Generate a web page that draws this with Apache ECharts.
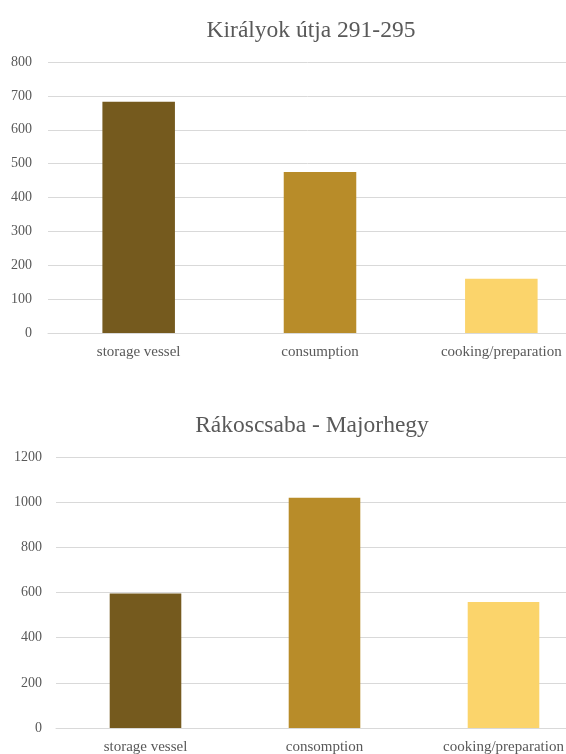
<!DOCTYPE html>
<html>
<head>
<meta charset="utf-8">
<script src="https://cdn.jsdelivr.net/npm/echarts@6/dist/echarts.min.js"></script>
<style>
html,body{margin:0;padding:0;background:#fff;}
#chart{width:566px;height:754px;}
</style>
</head>
<body>
<div id="chart"></div>
<script>
// Chart 1: Királyok útja 291-295
var title1 = 'Királyok útja 291-295';
var categories1 = ['storage vessel', 'consumption', 'cooking/preparation'];
var values1 = [683, 475, 160];
var yTicks1 = {min: 0, max: 800, interval: 100};

// Chart 2: Rákoscsaba - Majorhegy
var title2 = 'Rákoscsaba - Majorhegy';
var categories2 = ['storage vessel', 'consomption', 'cooking/preparation'];
var values2 = [596, 1020, 558];
var yTicks2 = {min: 0, max: 1200, interval: 200};

var barColors = ['#755A1E', '#B88C29', '#FBD46B'];

var FONT = '"Liberation Serif", "DejaVu Serif", serif';
var TXT = '#595959';
var GRIDC = '#D9D9D9';

function mkData(vals) {
  return vals.map(function (v, i) {
    return {value: v, itemStyle: {color: barColors[i]}};
  });
}

function xAx(idx, cats) {
  return {
    type: 'category', gridIndex: idx, data: cats,
    axisTick: {show: false},
    axisLine: {lineStyle: {color: GRIDC, width: 1}},
    axisLabel: {color: TXT, fontFamily: FONT, fontSize: 15, margin: 12, interval: 0}
  };
}
function yAx(idx, t, margin) {
  return {
    type: 'value', gridIndex: idx, min: t.min, max: t.max, interval: t.interval,
    axisLine: {show: false}, axisTick: {show: false},
    splitLine: {lineStyle: {color: GRIDC, width: 1}},
    axisLabel: {color: TXT, fontFamily: FONT, fontSize: 14, margin: margin,
                formatter: function (v) { return String(v); }}
  };
}

var chart = echarts.init(document.getElementById('chart'), null, {renderer: 'canvas'});
chart.setOption({
  animation: false,
  backgroundColor: '#fff',
  title: [
    {text: title1, left: 306, top: 14, textAlign: 'center',
     textStyle: {fontFamily: FONT, fontSize: 23.5, fontWeight: 'normal', color: TXT}},
    {text: title2, left: 307, top: 409, textAlign: 'center',
     textStyle: {fontFamily: FONT, fontSize: 23.5, fontWeight: 'normal', color: TXT}}
  ],
  grid: [
    {left: 48, width: 544, top: 62, height: 271, outerBoundsMode: 'none', containLabel: false},
    {left: 56, width: 537, top: 457, height: 271, outerBoundsMode: 'none', containLabel: false}
  ],
  xAxis: [xAx(0, categories1), xAx(1, categories2)],
  yAxis: [yAx(0, yTicks1, 16), yAx(1, yTicks2, 14)],
  series: [
    {type: 'bar', xAxisIndex: 0, yAxisIndex: 0, barWidth: '40%', data: mkData(values1)},
    {type: 'bar', xAxisIndex: 1, yAxisIndex: 1, barWidth: '40%', data: mkData(values2)}
  ]
});
</script>
</body>
</html>
